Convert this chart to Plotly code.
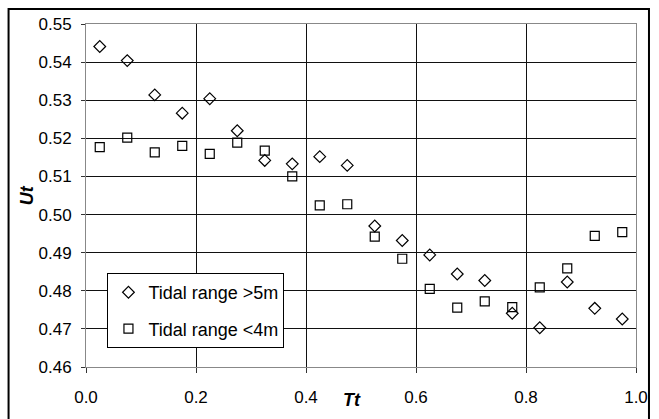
import plotly.graph_objects as go

# relative time Tt (bin centres)
tt = [0.025, 0.075, 0.125, 0.175, 0.225, 0.275, 0.325, 0.375, 0.425, 0.475,
      0.525, 0.575, 0.625, 0.675, 0.725, 0.775, 0.825, 0.875, 0.925, 0.975]

# Ut for tidal range > 5m
ut_high = [0.5441, 0.5404, 0.5314, 0.5266, 0.5304, 0.5220, 0.5142, 0.5133, 0.5152, 0.5129,
           0.4970, 0.4932, 0.4894, 0.4844, 0.4827, 0.4741, 0.4703, 0.4823, 0.4754, 0.4726]

# Ut for tidal range < 4m
ut_low = [0.5177, 0.5202, 0.5163, 0.5180, 0.5159, 0.5189, 0.5168, 0.5100, 0.5024, 0.5027,
          0.4942, 0.4884, 0.4805, 0.4756, 0.4772, 0.4757, 0.4809, 0.4859, 0.4944, 0.4954]

names = ["Tidal range >5m", "Tidal range <4m"]

fnt = "Liberation Sans, Arial, sans-serif"

fig = go.Figure()
fig.add_trace(go.Scatter(x=tt, y=ut_high, mode="markers", name=names[0], legendgroup="a",
                         marker=dict(symbol="diamond-open", size=9, color="black",
                                     line=dict(width=1.2, color="black"))))
fig.add_trace(go.Scatter(x=tt, y=ut_low, mode="markers", name=names[1], legendgroup="b",
                         marker=dict(symbol="square-open", size=9, color="black",
                                     line=dict(width=1.2, color="black"))))

fig.update_xaxes(range=[0, 1.0], dtick=0.2, tickformat=".1f", automargin=False,
                 showgrid=True, gridcolor="#111", gridwidth=1,
                 showline=True, linecolor="#888", linewidth=1, mirror=True,
                 ticks="outside", ticklen=5, tickcolor="#333", ticklabelstandoff=10,
                 tickfont=dict(size=17, color="black", family=fnt),
                 zeroline=False)
fig.update_yaxes(range=[0.46, 0.55], dtick=0.01, tickformat=".2f", automargin=False,
                 showgrid=True, gridcolor="#111", gridwidth=1,
                 showline=True, linecolor="#888", linewidth=1, mirror=True,
                 ticks="outside", ticklen=4, tickcolor="#333", ticklabelstandoff=6,
                 tickfont=dict(size=17, color="black", family=fnt),
                 zeroline=False)

# axis titles
fig.add_annotation(text="<b><i>Ut</i></b>", xref="paper", yref="paper",
                   x=-0.107, y=0.501, xanchor="center", yanchor="middle",
                   showarrow=False, textangle=-90,
                   font=dict(size=18, color="black", family=fnt))
fig.add_annotation(text="<b><i>Tt</i></b>", xref="paper", yref="paper",
                   x=0.484, y=-0.096, xanchor="center", yanchor="middle",
                   showarrow=False,
                   font=dict(size=18, color="black", family=fnt))

# outer frame of the chart
fig.add_shape(type="rect", xref="paper", yref="paper",
              x0=-0.1408, x1=1.0236, y0=-0.4, y1=1.0437,
              line=dict(color="black", width=2), layer="above")

fig.update_layout(
    width=659, height=419,
    margin=dict(l=86, r=23, t=24, b=52),
    plot_bgcolor="white", paper_bgcolor="white",
    font=dict(family=fnt, color="black"),
    legend=dict(x=0.039, y=0.274, xanchor="left", yanchor="top",
                bgcolor="white", bordercolor="black", borderwidth=1,
                font=dict(size=18, color="black", family=fnt),
                traceorder="grouped", tracegroupgap=10,
                itemwidth=30),
)

fig.write_html("out.html", config={"displayModeBar": False},
               post_script="document.body.style.margin='0';")
